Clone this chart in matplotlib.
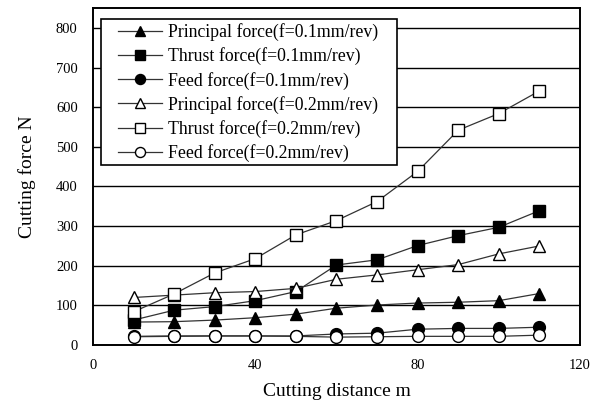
import matplotlib
matplotlib.use("Agg")
import matplotlib.pyplot as plt
from matplotlib.patches import Rectangle

# ── data ──────────────────────────────────────────────────────────────────────
distance = [10, 20, 30, 40, 50, 60, 70, 80, 90, 100, 110]

principal_01 = [58, 59, 63, 69, 78, 93, 101, 106, 108, 112, 130]
thrust_01    = [63, 88, 97, 112, 135, 202, 215, 251, 276, 297, 339]
feed_01      = [22, 23, 23, 23, 23, 28, 30, 40, 42, 42, 45]
principal_02 = [120, 126, 132, 135, 143, 166, 177, 190, 203, 230, 250]
thrust_02    = [84, 129, 182, 218, 278, 314, 362, 438, 542, 584, 641]
feed_02      = [21, 22, 23, 23, 22, 20, 21, 22, 22, 22, 25]

SERIES = [
    ("Principal force(f=0.1mm/rev)", principal_01, "^", "black"),
    ("Thrust force(f=0.1mm/rev)",    thrust_01,    "s", "black"),
    ("Feed force(f=0.1mm/rev)",      feed_01,      "o", "black"),
    ("Principal force(f=0.2mm/rev)", principal_02, "^", "white"),
    ("Thrust force(f=0.2mm/rev)",    thrust_02,    "s", "white"),
    ("Feed force(f=0.2mm/rev)",      feed_02,      "o", "white"),
]

plt.rcParams["font.family"] = ["Liberation Serif", "DejaVu Serif"]

fig = plt.figure(figsize=(6.01, 4.05), dpi=100)
ax = fig.add_axes([0.1547, 0.148, 0.8103, 0.832])

for label, vals, mk, face in SERIES:
    ax.plot(distance, vals, color="#333333", linewidth=0.9,
            marker=mk, markersize=8.5, markerfacecolor=face,
            markeredgecolor="black", markeredgewidth=1.0, label=label)

ax.set_xlim(0, 120)
ax.set_ylim(0, 850)
ax.set_xticks([0, 40, 80, 120])
ax.set_yticks(range(0, 801, 100))
ax.tick_params(axis="y", length=0, labelsize=10.5, pad=11)
ax.tick_params(axis="x", length=0, labelsize=10.5, pad=10)
ax.yaxis.grid(True, color="black", linewidth=1.0)
ax.set_axisbelow(True)
for sp in ax.spines.values():
    sp.set_linewidth(1.4)

ax.set_xlabel("Cutting distance m", fontsize=14, labelpad=8)
ax.set_ylabel("Cutting force N", fontsize=14, labelpad=14)

# legend box drawn separately so the side padding can be wider than the top
ax.add_patch(Rectangle((0.0164, 0.534), 0.608, 0.433, transform=ax.transAxes,
                       facecolor="white", edgecolor="black", linewidth=1.2,
                       zorder=4))
leg = ax.legend(loc="upper left", bbox_to_anchor=(0.051, 0.955),
                fontsize=12.8, numpoints=1, handlelength=2.5,
                markerscale=0.85, frameon=False, borderpad=0,
                labelspacing=0.35, handletextpad=0.3, borderaxespad=0)
leg.set_zorder(5)

fig.savefig("out.png", dpi=100)
